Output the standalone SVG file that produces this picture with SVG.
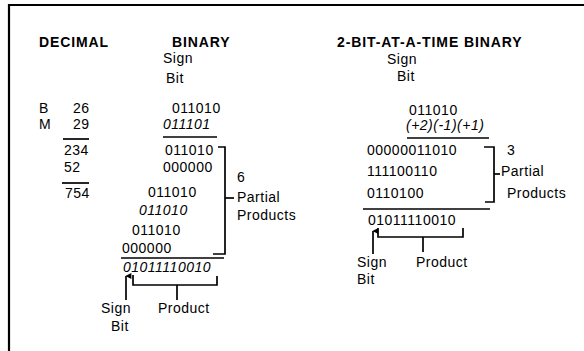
<svg xmlns="http://www.w3.org/2000/svg" width="584" height="351" viewBox="0 0 584 351">
<defs>
<marker id="ah" viewBox="0 0 10 10" refX="5" refY="1" markerWidth="6" markerHeight="7" orient="auto-start-reverse" markerUnits="userSpaceOnUse">
<path d="M0,10 L5,0 L10,10 Z" fill="#000"/>
</marker>
</defs>
<style>
text{font-family:"Liberation Sans",Arial,sans-serif;font-size:14px;letter-spacing:0.5px;fill:#000}
.h{font-weight:bold;letter-spacing:0.9px}
.i{font-style:italic}
.ln{stroke:#000;stroke-width:1.7;fill:none}
.bd{stroke:#000;stroke-width:2.2;fill:none}
</style>
<rect width="584" height="351" fill="#fff"/>
<g id="frame">
<path class="bd" d="M9,351 V5 H584"/>
</g>
<g id="decimal">
<text class="h" x="39" y="47">DECIMAL</text>
<text x="39" y="113">B</text>
<text x="73" y="113">26</text>
<text x="39" y="129">M</text>
<text x="73" y="129">29</text>
<text x="64" y="155">234</text>
<text x="64" y="172">52</text>
<text x="65" y="198">754</text>
</g>
<g id="binary">
<text class="h" x="172" y="47">BINARY</text>
<text x="163" y="63">Sign</text>
<text x="166" y="83">Bit</text>
<text x="172" y="113">011010</text>
<text class="i" x="163" y="129">011101</text>
<text x="165" y="155">011010</text>
<text x="163" y="172">000000</text>
<text x="148" y="197">011010</text>
<text class="i" x="139" y="215">011010</text>
<text x="132" y="235">011010</text>
<text x="122" y="253">000000</text>
<text class="i" x="123" y="272">01011110010</text>
<text x="237" y="182">6</text>
<text x="237" y="202">Partial</text>
<text x="237" y="220">Products</text>
<text x="101" y="313">Sign</text>
<text x="111" y="331">Bit</text>
<text x="158" y="313">Product</text>
</g>
<g id="two-bit">
<text class="h" x="337" y="47">2-BIT-AT-A-TIME BINARY</text>
<text x="387" y="64">Sign</text>
<text x="397" y="81">Bit</text>
<text x="409" y="115">011010</text>
<text class="i" x="406" y="130">(+2)(-1)(+1)</text>
<text x="367" y="155">00000011010</text>
<text x="367" y="176">111100110</text>
<text x="367" y="198">0110100</text>
<text x="368" y="225">01011110010</text>
<text x="507" y="155">3</text>
<text x="501" y="176">Partial</text>
<text x="507" y="198">Products</text>
<text x="357" y="267">Sign</text>
<text x="357" y="284">Bit</text>
<text x="416" y="267">Product</text>
</g>
<g id="connectors">
<path class="ln" d="M63,139 H89"/>
<path class="ln" d="M62,183 H89"/>
<path class="ln" d="M163,137 H217"/>
<path class="ln" d="M218,147 H225 V254 H213"/>
<path class="ln" d="M225,198 H234"/>
<path class="ln" d="M121,258 H224"/>
<path class="ln" d="M126,300 V276" marker-end="url(#ah)"/>
<path class="ln" d="M133,275 V285 H217 V276"/>
<path class="ln" d="M177,285 V300"/>
<path class="ln" d="M407,138 H489"/>
<path class="ln" d="M484,147 H494 V202 H485"/>
<path class="ln" d="M494,174 H500"/>
<path class="ln" d="M363,209 H490"/>
<path class="ln" d="M373,254 V231" marker-end="url(#ah)"/>
<path class="ln" d="M378,228 V237 H463 V228"/>
<path class="ln" d="M423,237 V252"/>
</g>
</svg>
